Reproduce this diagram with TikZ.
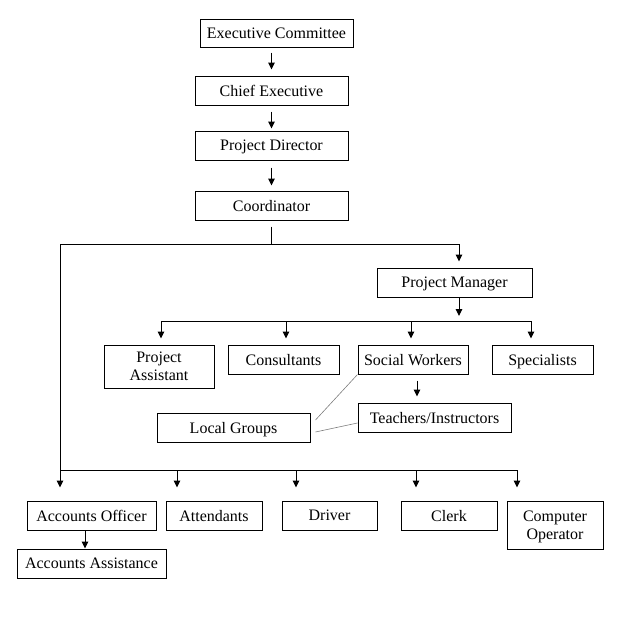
\documentclass[tikz,border=0pt]{standalone}
\usepackage{fontspec}
\setmainfont{Liberation Serif}
\usepackage{tikz}
\usetikzlibrary{arrows.meta}
\tikzset{
  box/.style={draw,line width=1pt,inner sep=2pt,align=center,text depth=0pt,font=\fontsize{16}{18}\selectfont},
  thin link/.style={draw=gray,line width=0.6pt}
}

\begin{document}
\begin{tikzpicture}[x=1pt,y=-1pt,line width=1pt,>={Triangle[length=7pt,width=6.5pt]}]
  \useasboundingbox (0,0) rectangle (625,621);

  % top chain
  \node[box,minimum width=153pt,minimum height=28pt] (1) at (276.5,33) {Executive Committee};
  \node[box,minimum width=153pt,minimum height=29pt] (2) at (271.5,90.5) {Chief Executive};
  \node[box,minimum width=153pt,minimum height=29pt] (3) at (271.5,145.5) {Project Director};
  \node[box,minimum width=153pt,minimum height=29pt] (4) at (271.5,205.5) {Coordinator};
  \node[box,minimum width=155pt,minimum height=29pt] (5) at (454.5,282.5) {Project Manager};

  % under the project manager
  \node[box,minimum width=110pt,minimum height=43pt] (6) at (159,366.5) {Project\\Assistant};
  \node[box,minimum width=111pt,minimum height=29pt] (7) at (283.5,359.5) {Consultants};
  \node[box,minimum width=110pt,minimum height=29pt] (8) at (413,359.5) {Social Workers};
  \node[box,minimum width=101pt,minimum height=29pt] (9) at (542.5,359.5) {Specialists};
  \node[box,minimum width=153pt,minimum height=29pt] (10) at (434.5,417.5) {Teachers/Instructors};
  \node[box,minimum width=153pt,minimum height=29pt] (11) at (233.5,427.5) {Local Groups};

  % bottom row
  \node[box,minimum width=129pt,minimum height=29pt] (12) at (91.5,515.5) {Accounts Officer};
  \node[box,minimum width=96pt,minimum height=29pt] (13) at (214,515.5) {Attendants};
  \node[box,minimum width=95pt,minimum height=29pt] (14) at (329.5,515.5) {Driver};
  \node[box,minimum width=96pt,minimum height=29pt] (15) at (449,515.5) {Clerk};
  \node[box,minimum width=96pt,minimum height=48pt] (16) at (555,525) {Computer\\Operator};
  \node[box,minimum width=149pt,minimum height=29pt] (17) at (91.5,563.5) {Accounts Assistance};

  \coordinate (lcorner) at (60,244);
  \coordinate (bhub) at (60,470);
  \coordinate (pmhub) at (459,321);

  \path[->]
    (2.north |- 1.south) edge[shorten <=5pt,shorten >=6pt] (2)
    (2) edge[shorten <=6pt,shorten >=2pt] (3)
    (3) edge[shorten <=7pt,shorten >=5pt] (4);

  \draw[shorten <=6pt] (4) -- (4 |- lcorner);
  \draw[->,shorten >=6pt] (lcorner) -| ([xshift=4.5pt]5.north);
  \draw (lcorner) -- (bhub);

  \draw[->,shorten >=5pt] ([xshift=4.5pt]5.south) -- (pmhub);
  \foreach \x/\n in {161/6,286/7,411/8,531/9}
    \draw[->,shorten >=6pt] (pmhub) -| (\n.north -| \x,0);

  \draw[->,shorten <=6pt,shorten >=6pt] ([xshift=4pt]8.south) -- ([xshift=4pt]8.south |- 10.north);
  \draw[thin link] ([shift={(5pt,7.5pt)}]11.east) -- (8.south west);
  \draw[thin link] ([shift={(5pt,-4.5pt)}]11.east) -- ([yshift=-5.5pt]10.west);

  \foreach \x/\n in {60/12,177/13,296/14,416/15,517/16}
    \draw[->,shorten >=13pt] (bhub) -| (\n.north -| \x,0);
  \draw[->] ([xshift=-6.5pt]12.south) -- ([xshift=-6.5pt]12.south |- 17.north);
\end{tikzpicture}
\end{document}
